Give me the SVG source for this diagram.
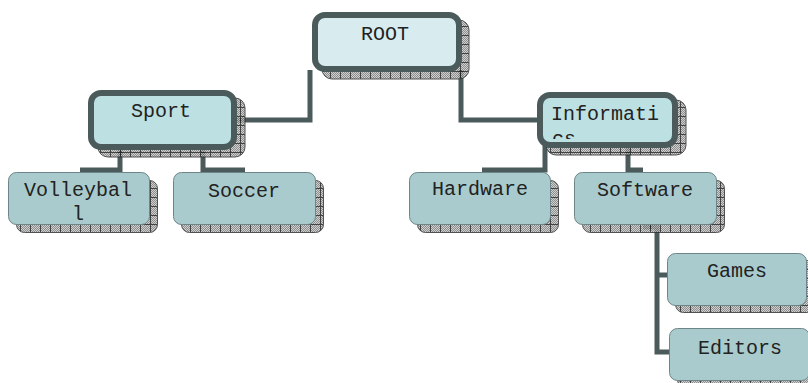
<svg xmlns="http://www.w3.org/2000/svg" width="808" height="383" viewBox="0 0 808 383">
<defs>
<pattern id="dots" width="2" height="2" patternUnits="userSpaceOnUse">
<rect width="2" height="2" fill="#c8c8c8"/>
<rect width="1" height="1" fill="#7a7a7a"/>
<rect x="1" y="1" width="1" height="1" fill="#7a7a7a"/>
</pattern>
<pattern id="grid" width="10" height="9" patternUnits="userSpaceOnUse">
<rect width="10" height="9" fill="url(#dots)"/>
<path d="M0.5 0V9M0 8.5H10" stroke="#222" stroke-width="1" fill="none"/>
</pattern>
<clipPath id="clipInfo"><rect x="543" y="98" width="129" height="41"/></clipPath>
</defs>
<style>
.conn{fill:none;stroke:#4b5a5a;stroke-width:5;stroke-linejoin:miter}
.shadow{fill:url(#grid);stroke:#333;stroke-width:1;opacity:0.85}
.top{stroke:#4b5a5a;stroke-width:6}
.leaf{fill:#a9cbcd;stroke:#6d8587;stroke-width:1}
text{font-family:"Liberation Mono","Courier New",monospace;font-size:20px;fill:#222;text-anchor:middle}
</style>
<g id="connectors">
<path class="conn" d="M237 120H310V70"/>
<path class="conn" d="M461 70V120H540"/>
<path class="conn" d="M120 148V170H80"/>
<path class="conn" d="M203 148V170H245"/>
<path class="conn" d="M545 146V170H482"/>
<path class="conn" d="M628 146V170H643"/>
<path class="conn" d="M643 227H657V352H670"/>
<path class="conn" d="M657 275H668"/>
</g>
<g id="root">
<rect class="shadow" x="322" y="20" width="147" height="59" rx="10"/>
<rect class="top" x="315" y="15" width="144" height="54" rx="10" fill="#d8ecef"/>
<text x="385" y="40">ROOT</text>
</g>
<g id="sport">
<rect class="shadow" x="98" y="98" width="147" height="59" rx="10"/>
<rect class="top" x="91" y="93" width="143" height="54" rx="10" fill="#bde0e3"/>
<text x="161" y="117">Sport</text>
</g>
<g id="informatics">
<rect class="shadow" x="546" y="100" width="140" height="55" rx="10"/>
<rect class="top" x="540" y="95" width="135" height="50" rx="10" fill="#bde0e3"/>
<g clip-path="url(#clipInfo)">
<text x="605" y="120">Informati</text>
<text x="552" y="145" style="text-anchor:start">cs</text>
</g>
</g>
<g id="volleyball">
<rect class="shadow" x="16.5" y="180.5" width="141" height="52" rx="8"/>
<rect class="leaf" x="8.5" y="172.5" width="141" height="52" rx="8"/>
<text x="78" y="196">Volleybal</text>
<text x="78" y="220">l</text>
</g>
<g id="soccer">
<rect class="shadow" x="181.5" y="180.5" width="142" height="52" rx="8"/>
<rect class="leaf" x="173.5" y="172.5" width="142" height="52" rx="8"/>
<text x="244" y="197">Soccer</text>
</g>
<g id="hardware">
<rect class="shadow" x="417.5" y="180.5" width="141" height="52" rx="8"/>
<rect class="leaf" x="409.5" y="172.5" width="141" height="52" rx="8"/>
<text x="480" y="195">Hardware</text>
</g>
<g id="software">
<rect class="shadow" x="582.5" y="180.5" width="142" height="52" rx="8"/>
<rect class="leaf" x="574.5" y="172.5" width="142" height="52" rx="8"/>
<text x="645" y="196">Software</text>
</g>
<g id="games">
<rect class="shadow" x="675.5" y="260.5" width="140" height="52" rx="8"/>
<rect class="leaf" x="667.5" y="253.5" width="139" height="52" rx="8"/>
<text x="737" y="277">Games</text>
</g>
<g id="editors">
<rect class="shadow" x="677.5" y="335.5" width="140" height="52" rx="8"/>
<rect class="leaf" x="669.5" y="328.5" width="140" height="52" rx="8"/>
<text x="740" y="354">Editors</text>
</g>
</svg>
